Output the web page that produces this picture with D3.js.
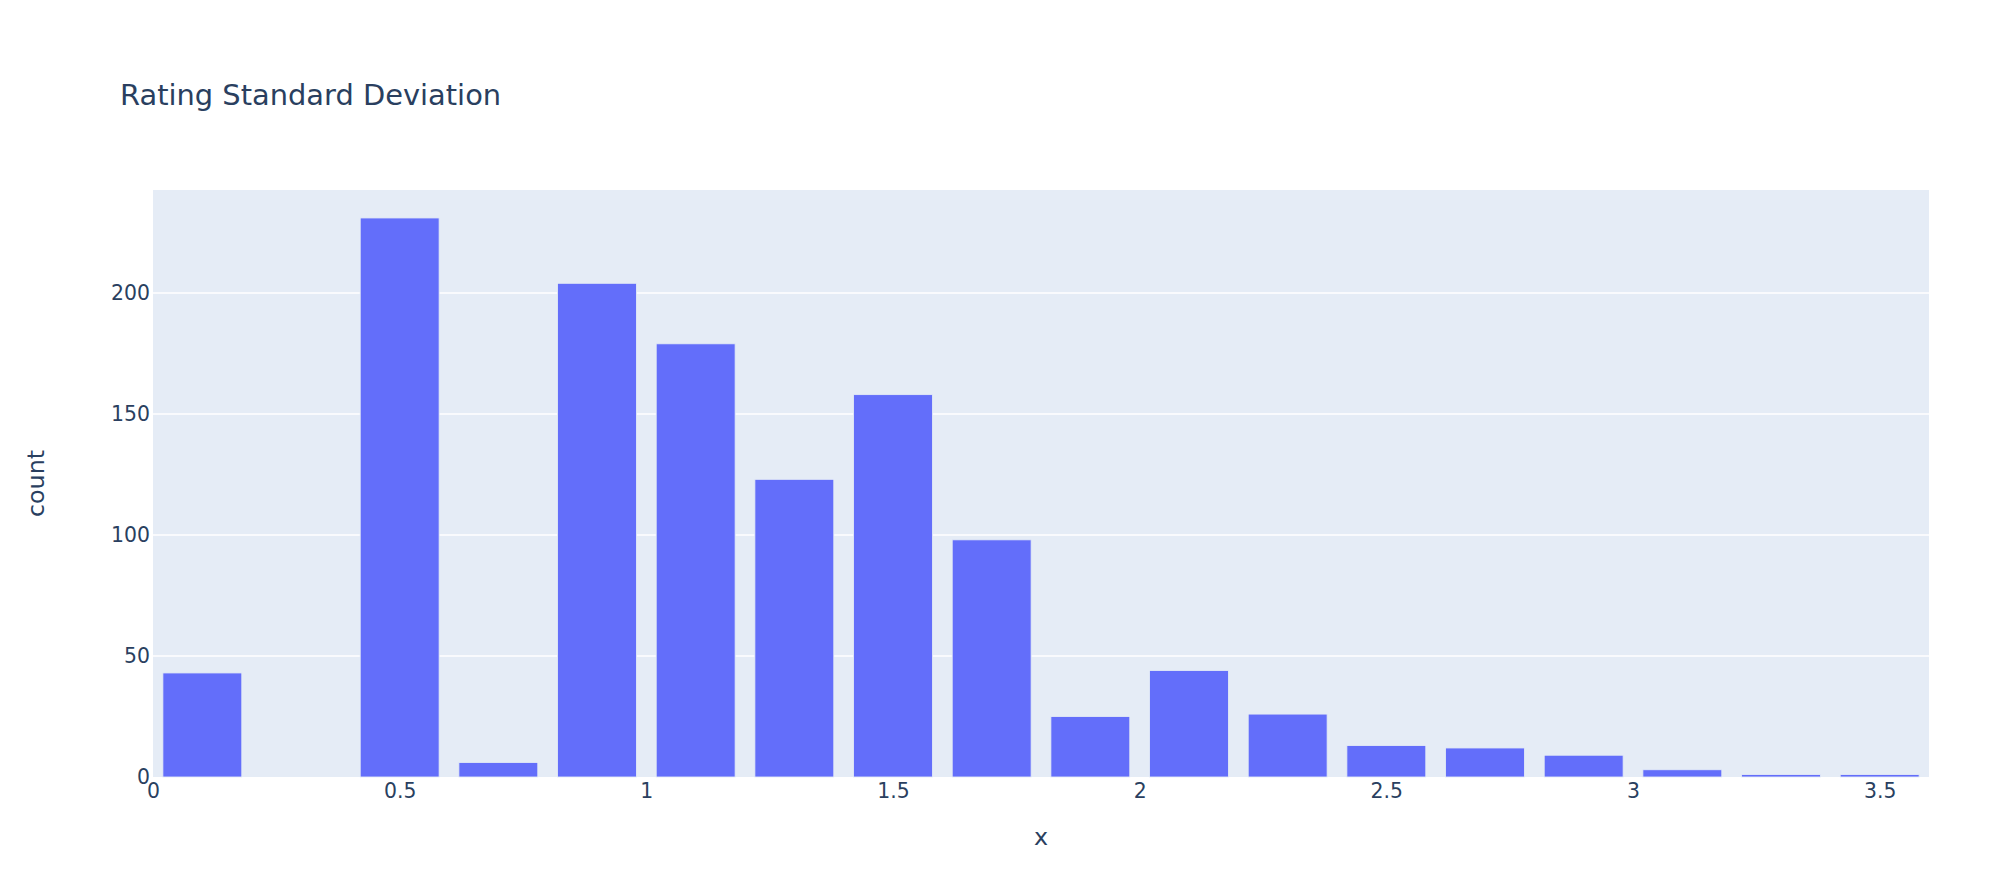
<!DOCTYPE html>
<html lang="en">
<head>
    <meta charset="UTF-8">
    <title>Rating Standard Deviation</title>
    <script src="https://cdn.jsdelivr.net/npm/d3@7"></script>
    <style>
        html, body {
            margin: 0;
            padding: 0;
            background: #fff;
        }

        svg text {
            font-family: "DejaVu Sans", Verdana, sans-serif;
            fill: #2a3f5f;
        }
    </style>
</head>
<body>
<div id="chart"></div>
<script>
    // histogram bins (width 0.2) and their counts
    const binStarts = [0, 0.2, 0.4, 0.6, 0.8, 1.0, 1.2, 1.4, 1.6, 1.8, 2.0, 2.2, 2.4, 2.6, 2.8, 3.0, 3.2, 3.4];
    const counts = [43, 0, 231, 6, 204, 179, 123, 158, 98, 25, 44, 26, 13, 12, 9, 3, 1, 1];
    const binWidth = 0.2;
    const xTicks = [0, 0.5, 1, 1.5, 2, 2.5, 3, 3.5];
    const yTicks = [0, 50, 100, 150, 200];

    const width = 2000;
    const height = 873;
    const margin = {top: 190, right: 71, bottom: 96, left: 153};
    const innerW = width - margin.left - margin.right;
    const innerH = height - margin.top - margin.bottom;

    const bins = binStarts.map((x0, i) => ({x0: x0, x1: x0 + binWidth, count: counts[i]}));

    const x = d3.scaleLinear()
        .domain([0, 3.6])
        .range([0, innerW]);

    const y = d3.scaleLinear()
        .domain([0, d3.max(counts) * 1.05])
        .range([innerH, 0]);

    const svg = d3.select("#chart").append("svg")
        .attr("width", width)
        .attr("height", height)
        .attr("viewBox", [0, 0, width, height]);

    svg.append("text")
        .attr("x", 120)
        .attr("y", 105)
        .style("font-size", "28.9px")
        .text("Rating Standard Deviation");

    const g = svg.append("g")
        .attr("transform", `translate(${margin.left},${margin.top})`);

    g.append("rect")
        .attr("width", innerW)
        .attr("height", innerH)
        .attr("fill", "#E5ECF6");

    // horizontal grid
    g.append("g")
        .selectAll("line")
        .data(yTicks.filter(d => d > 0))
        .join("line")
        .attr("x1", 0)
        .attr("x2", innerW)
        .attr("y1", d => y(d))
        .attr("y2", d => y(d))
        .attr("stroke", "#fff")
        .attr("stroke-width", 1.7);

    // bars with plotly's default 0.2 bargap
    const gap = 0.1 * binWidth;
    g.append("g")
        .selectAll("rect")
        .data(bins.filter(d => d.count > 0))
        .join("rect")
        .attr("x", d => x(d.x0 + gap))
        .attr("width", d => x(d.x1 - gap) - x(d.x0 + gap))
        .attr("y", d => y(d.count))
        .attr("height", d => y(0) - y(d.count))
        .attr("fill", "#636efa")
        .attr("stroke", "#E5ECF6")
        .attr("stroke-width", 0.85);

    const xAxis = g.append("g")
        .attr("transform", `translate(0,${innerH})`)
        .call(d3.axisBottom(x).tickValues(xTicks).tickFormat(d3.format("~g")).tickSize(0).tickPadding(7));

    const yAxis = g.append("g")
        .call(d3.axisLeft(y).tickValues(yTicks).tickSize(0).tickPadding(3));

    [xAxis, yAxis].forEach(a => {
        a.select(".domain").remove();
        a.selectAll("text")
            .attr("fill", "#2a3f5f")
            .style("font-size", "20.4px")
            .style("font-family", "\"DejaVu Sans\", Verdana, sans-serif");
    });

    svg.append("text")
        .attr("x", margin.left + innerW / 2)
        .attr("y", 845)
        .attr("text-anchor", "middle")
        .style("font-size", "23.8px")
        .text("x");

    svg.append("text")
        .attr("transform", `translate(44,${margin.top + innerH / 2}) rotate(-90)`)
        .attr("text-anchor", "middle")
        .style("font-size", "23.8px")
        .text("count");
</script>
</body>
</html>
